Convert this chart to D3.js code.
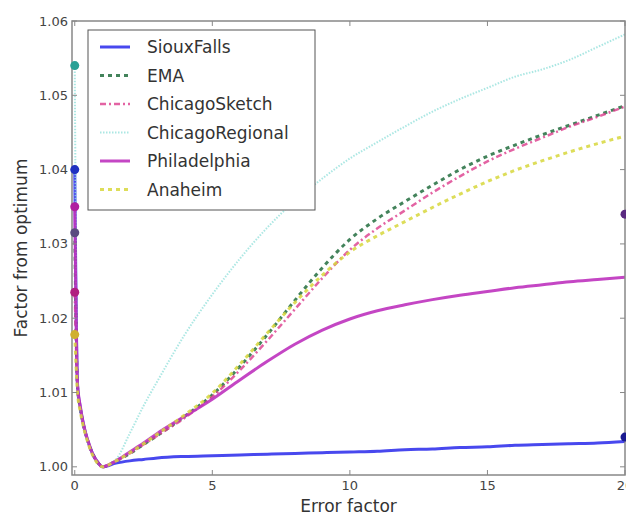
<!DOCTYPE html>
<html><head><meta charset="utf-8">
<script src="https://cdn.jsdelivr.net/npm/d3@7"></script>
<style>body{margin:0;background:#fff}svg{display:block;font-family:"DejaVu Sans",sans-serif}</style>
</head><body><svg id="c" width="626" height="517"></svg>
<script>
const xs = [0,0.1,0.2,0.3,0.4,0.5,0.6,0.7,0.8,0.9,1,1.5,2,2.5,3,4,5,6,7,8,9,10,11,12,13,14,15,16,17,18,19,20];
const seriesNames = ["SiouxFalls","EMA","ChicagoSketch","ChicagoRegional","Philadelphia","Anaheim"];
const siouxFalls = [1.0400,1.0110,1.0080,1.0060,1.0044,1.0032,1.0022,1.0014,1.0008,1.0003,1.0000,1.0005,1.0008,1.0010,1.0012,1.0014,1.0015,1.0016,1.0017,1.0018,1.0019,1.0020,1.0021,1.0023,1.0024,1.0026,1.0027,1.0029,1.0030,1.0031,1.0032,1.0034];
const ema = [1.0315,1.0108,1.0079,1.0059,1.0044,1.0032,1.0022,1.0014,1.0008,1.0003,1.0000,1.0008,1.0018,1.0030,1.0042,1.0068,1.0097,1.0135,1.0178,1.0224,1.0268,1.0306,1.0334,1.0357,1.0379,1.0400,1.0418,1.0433,1.0447,1.0460,1.0473,1.0486];
const chicagoSketch = [1.0235,1.0105,1.0077,1.0058,1.0043,1.0031,1.0021,1.0013,1.0007,1.0003,1.0000,1.0008,1.0018,1.0030,1.0042,1.0066,1.0094,1.0130,1.0170,1.0212,1.0254,1.0292,1.0321,1.0345,1.0369,1.0391,1.0411,1.0428,1.0443,1.0458,1.0471,1.0485];
const chicagoRegional = [1.0540,1.0105,1.0077,1.0057,1.0042,1.0030,1.0020,1.0012,1.0006,1.0002,1.0000,1.0010,1.0045,1.0082,1.0115,1.0178,1.0232,1.0280,1.0322,1.0358,1.0388,1.0415,1.0437,1.0458,1.0478,1.0495,1.0510,1.0525,1.0535,1.0548,1.0565,1.0582];
const philadelphia = [1.0350,1.0112,1.0082,1.0061,1.0045,1.0033,1.0022,1.0014,1.0008,1.0003,1.0000,1.0008,1.0020,1.0032,1.0045,1.0068,1.0091,1.0117,1.0142,1.0165,1.0184,1.0199,1.0210,1.0218,1.0225,1.0231,1.0236,1.0241,1.0245,1.0249,1.0252,1.0255];
const anaheim = [1.0178,1.0100,1.0075,1.0056,1.0042,1.0030,1.0020,1.0012,1.0006,1.0002,1.0000,1.0008,1.0019,1.0031,1.0044,1.0070,1.0099,1.0138,1.0180,1.0221,1.0258,1.0289,1.0311,1.0330,1.0349,1.0367,1.0384,1.0399,1.0412,1.0424,1.0435,1.0445];
const endMarkerX = [20,20];
const endMarkerY = [1.034,1.004];
const xTicks = [0,5,10,15,20];
const yTicks = [1.00,1.01,1.02,1.03,1.04,1.05,1.06];

const seriesValues = [siouxFalls,ema,chicagoSketch,chicagoRegional,philadelphia,anaheim];
const styles = [
  {color:"rgba(40,40,235,0.85)", w:3, dash:null, marker:"#2030c0"},
  {color:"rgba(20,100,50,0.8)", w:3, dash:"4,4", marker:"#5a4a80"},
  {color:"rgba(220,60,140,0.8)", w:2.5, dash:"6,3,2,3", marker:"#b02080"},
  {color:"rgba(150,225,220,0.8)", w:2, dash:"1.5,1.5", marker:"#2aa095"},
  {color:"rgba(190,50,190,0.9)", w:3, dash:null, marker:"#b020a0"},
  {color:"rgba(215,215,60,0.85)", w:3, dash:"4,4", marker:"#d0b030"}
];
const endMarkerColors = ["#5a2a80","#1a1a90"];

const svg = d3.select("#c");
const L=72, R=625, T=21, B=475;
const x = d3.scaleLinear().domain([-0.1,20]).range([L,R]);
const y = d3.scaleLinear().domain([0.9989,1.06]).range([B,T]);

svg.append("defs").append("clipPath").attr("id","clip").append("rect")
  .attr("x",L).attr("y",T).attr("width",R-L).attr("height",B-T);

const g = svg.append("g").attr("clip-path","url(#clip)");
const line = d3.line().x((d,i)=>x(xs[i])).y(d=>y(d)).curve(d3.curveMonotoneX);
seriesValues.forEach((vals,k)=>{
  const s = styles[k];
  g.append("path").datum(vals).attr("d",line).attr("fill","none")
   .attr("stroke",s.color).attr("stroke-width",s.w)
   .attr("stroke-dasharray",s.dash).attr("stroke-linejoin","round");
});

// frame + ticks
const fr = svg.append("g");
fr.append("rect").attr("x",L).attr("y",T).attr("width",R-L).attr("height",B-T)
  .attr("fill","none").attr("stroke","#888").attr("stroke-width",1.5);
xTicks.forEach(t=>{
  fr.append("line").attr("x1",x(t)).attr("x2",x(t)).attr("y1",B).attr("y2",B-5).attr("stroke","#888");
  fr.append("line").attr("x1",x(t)).attr("x2",x(t)).attr("y1",T).attr("y2",T+5).attr("stroke","#888");
  fr.append("text").attr("x",x(t)).attr("y",B+15).attr("text-anchor","middle")
    .attr("font-size",13).attr("fill","#444").text(d3.format("d")(t));
});
yTicks.forEach(t=>{
  fr.append("line").attr("x1",L).attr("x2",L+5).attr("y1",y(t)).attr("y2",y(t)).attr("stroke","#888");
  fr.append("line").attr("x1",R).attr("x2",R-5).attr("y1",y(t)).attr("y2",y(t)).attr("stroke","#888");
  fr.append("text").attr("x",L-4).attr("y",y(t)+4.5).attr("text-anchor","end")
    .attr("font-size",13).attr("fill","#444").text(d3.format(".2f")(t));
});

// markers
seriesValues.forEach((vals,k)=>{
  svg.append("circle").attr("cx",x(xs[0])).attr("cy",y(vals[0])).attr("r",4.5).attr("fill",styles[k].marker);
});
endMarkerX.forEach((v,i)=>{
  svg.append("circle").attr("cx",x(v)).attr("cy",y(endMarkerY[i])).attr("r",4.5).attr("fill",endMarkerColors[i]);
});

// axis titles
svg.append("text").attr("x",(L+R)/2).attr("y",512).attr("text-anchor","middle")
  .attr("font-size",17).attr("fill","#333").text("Error factor");
svg.append("text").attr("transform",`translate(27,${(T+B)/2}) rotate(-90)`).attr("text-anchor","middle")
  .attr("font-size",17).attr("fill","#333").text("Factor from optimum");

// legend
const lg = svg.append("g");
lg.append("rect").attr("x",88).attr("y",30).attr("width",227).attr("height",180)
  .attr("fill","#fff").attr("stroke","#555").attr("stroke-width",1);
seriesNames.forEach((n,k)=>{
  const yy = 47 + k*28.5;
  const s = styles[k];
  lg.append("line").attr("x1",100).attr("x2",130).attr("y1",yy).attr("y2",yy)
    .attr("stroke",s.color).attr("stroke-width",s.w).attr("stroke-dasharray",s.dash);
  lg.append("text").attr("x",147).attr("y",yy+6).attr("font-size",17).attr("fill","#333").text(n);
});
</script></body></html>
